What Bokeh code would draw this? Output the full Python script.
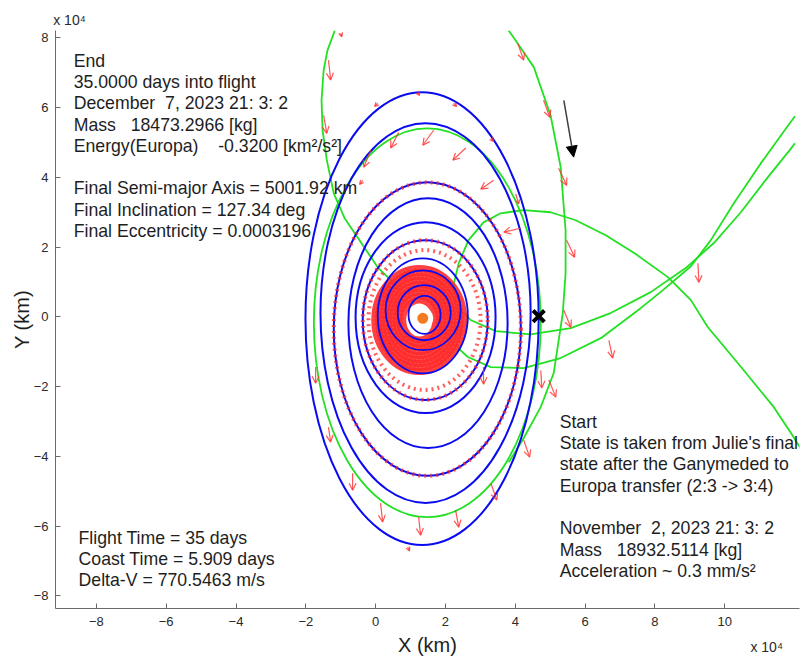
from bokeh.plotting import figure
from bokeh.models import (ColumnDataSource, Range1d, FixedTicker, Arrow,
                          OpenHead, NormalHead, LinearAxis)
from bokeh.embed import file_html
from bokeh.resources import INLINE
from bokeh.core.properties import value

# ---------------------------------------------------------------- data
# all positions in units of 1e4 km, Europa-centred rotating frame
x_ticks = [-8, -6, -4, -2, 0, 2, 4, 6, 8, 10]
y_ticks = [-8, -6, -4, -2, 0, 2, 4, 6, 8]
scale_note = "x 10\u2074"
note_top_x = -8.77       # where the exponent note sits above the plot
note_bottom_x = 11.2     # where the exponent note sits under the x axis

europa_x, europa_y = 1.35, -0.04
start_x, start_y = 4.67, 0.02

# blue: thrust-spiral revolutions (centre, full width, full height)
blue_cx = [1.33, 1.43, 1.48, 1.50, 1.43, 1.42, 1.35, 1.36, 1.39, 1.40]
blue_cy = [-0.05, 0.11, -0.35, -0.18, -0.02, -0.09, 0.03, 0.19, 0.12, 0.06]
blue_w = [6.68, 6.02, 5.36, 4.56, 4.01, 3.58, 2.58, 2.15, 1.52, 0.92]
blue_h = [12.98, 10.89, 8.42, 7.16, 5.47, 4.58, 3.30, 2.29, 1.58, 1.09]

# green: coast orbit around Europa
coast_cx, coast_cy, coast_w, coast_h = 1.48, -0.17, 6.50, 11.15

# green: approach / coast arcs
arc_a_x = [-1.17, -1.38, -1.49, -1.55, -1.52, -1.40, -1.20, -0.89, -0.52, 0.06, 0.72]
arc_a_y = [8.21, 7.64, 7.07, 6.21, 5.35, 4.50, 3.54, 2.83, 2.28, 1.42, 0.77]

arc_b_x = [3.81, 4.07, 4.53, 5.01, 5.30, 5.44, 5.44, 5.36, 5.10, 4.73, 4.21, 3.81]
arc_b_y = [8.21, 7.84, 7.16, 5.78, 4.29, 2.48, 1.25, 0.11, -1.61, -2.58, -3.53, -4.17]

arc_c_x = [12.01, 11.86, 11.23, 10.46, 9.68, 8.88, 7.88, 6.73, 5.59, 4.44, 3.44,
           2.72, 2.29, 2.23, 2.38, 2.66, 3.09, 3.58, 4.24, 5.01, 5.73, 6.59,
           7.45, 8.37, 9.03, 9.51, 10.46, 11.40, 11.89, 12.18]
arc_c_y = [4.98, 4.78, 4.00, 3.00, 2.11, 1.40, 0.71, 0.11, -0.32, -0.50, -0.41,
           -0.09, 0.39, 0.91, 1.54, 2.20, 2.71, 2.97, 3.06, 3.00, 2.77, 2.34,
           1.80, 1.14, 0.48, -0.29, -1.43, -2.58, -3.32, -3.78]

arc_d_x = [12.01, 11.86, 11.03, 10.26, 9.60, 9.03, 8.22, 7.59, 6.45, 5.30, 4.24,
           3.30, 2.64, 2.21, 2.06]
arc_d_y = [5.75, 5.55, 4.40, 3.26, 2.20, 1.45, 0.76, 0.25, -0.61, -1.18, -1.47,
           -1.44, -1.15, -0.75, -0.58]

# red: densely sampled thrust segments (drawn as dashed rings)
ring_cx = [1.48, 1.42, 1.40]
ring_cy = [-0.35, -0.09, -0.09]
ring_w = [5.36, 3.58, 3.21]
ring_h = [8.42, 4.58, 4.01]

# red: tight inner spiral near Europa
blob_cx = 1.25
blob_cy = -0.09
blob_w = [2.55, 2.35, 2.15, 1.95, 1.75, 1.55, 1.35, 1.15, 0.95]
blob_h = [2.95, 2.72, 2.50, 2.28, 2.05, 1.82, 1.60, 1.38, 1.15]

# red: thrust direction vectors (tail -> head)
thr_x0 = [-1.35, -1.49, -1.72, -1.35, -0.66, 0.14, 1.23, 2.29, 3.30, 4.24, 3.09, 4.73,
          4.96, 6.68, 9.23, 5.39, 5.47, 5.24, 4.81, 4.07, 0.66, 1.66, 2.58, 3.38, 4.15, -0.14]
thr_y0 = [7.36, 5.78, -1.44, -3.16, -4.48, -5.34, -5.74, -5.54, -4.77, -3.53, -1.44, -1.53,
          -1.81, -0.67, 1.54, 0.19, 2.20, 4.26, 6.21, 7.84, 5.29, 5.35, 4.84, 3.92, 2.54, 4.78]
thr_x1 = [-1.29, -1.40, -1.72, -1.29, -0.66, 0.20, 1.29, 2.38, 3.47, 4.41, 3.09, 4.76,
          5.16, 6.79, 9.26, 5.59, 5.70, 5.47, 4.99, 4.24, 0.43, 1.35, 2.21, 3.01, 3.67, -0.34]
thr_y1 = [6.79, 5.26, -1.90, -3.59, -4.97, -5.88, -6.26, -6.03, -5.25, -4.02, -1.93, -2.04,
          -2.30, -1.18, 0.99, -0.30, 1.71, 3.77, 5.72, 7.36, 4.84, 4.92, 4.49, 3.66, 2.43, 4.29]

# red: short thrust ticks on the outer revolutions
tick_x0 = [1.20, 0.06, 2.23, 3.30, -0.37, 0.92, -1.00, 4.01]
tick_y0 = [6.44, 6.12, 6.12, 5.12, 3.91, -6.60, 8.13, 3.53]
tick_x1 = [1.26, -0.03, 2.32, 3.38, -0.46, 0.97, -0.97, 4.10]
tick_y1 = [6.35, 6.03, 6.03, 5.03, 3.80, -6.71, 8.03, 3.24]

# direction-of-motion marker
dir_x0, dir_y0, dir_x1, dir_y1 = 5.39, 6.21, 5.67, 4.58

NB = "\u00a0"
end_lines = [
    "End",
    "35.0000 days into flight",
    f"December {NB}7, 2023 21: 3: 2",
    f"Mass {NB}{NB}18473.2966 [kg]",
    f"Energy(Europa) {NB}{NB}{NB}-0.3200 [km\u00b2/s\u00b2]",
    "",
    "Final Semi-major Axis = 5001.92 km",
    "Final Inclination = 127.34 deg",
    "Final Eccentricity = 0.0003196",
]
summary_lines = [
    "Flight Time = 35 days",
    "Coast Time = 5.909 days",
    "Delta-V = 770.5463 m/s",
]
start_lines = [
    "Start",
    "State is taken from Julie's final",
    "state after the Ganymeded to",
    "Europa transfer (2:3 -> 3:4)",
    "",
    f"November {NB}2, 2023 21: 3: 2",
    f"Mass {NB}{NB}18932.5114 [kg]",
    "Acceleration ~ 0.3 mm/s\u00b2",
]

# ---------------------------------------------------------------- styles
FONT = "Liberation Sans"
BLUE = "#0b0bf2"
GREEN = "#22e022"
RED = "#ff2b2b"
ORANGE = "#f47a1f"
INK = "#1e1e1e"
AXIS = "#6a6a6a"

p = figure(width=801, height=659,
           x_range=Range1d(-9.17, 12.14), y_range=Range1d(-8.36, 8.21),
           output_backend="svg", toolbar_location=None,
           min_border_left=55, min_border_right=2,
           min_border_top=30, min_border_bottom=51)
p.grid.visible = False
p.outline_line_color = None
p.background_fill_color = "white"
p.border_fill_color = "white"

p.xaxis.ticker = FixedTicker(ticks=x_ticks)
p.yaxis.ticker = FixedTicker(ticks=y_ticks)
p.yaxis.axis_label = "Y (km)"
for ax in (p.xaxis[0], p.yaxis[0]):
    ax.axis_line_color = AXIS
    ax.major_tick_line_color = AXIS
    ax.major_tick_in = 5
    ax.major_tick_out = 0
    ax.minor_tick_line_color = None
    ax.major_label_text_font = FONT
    ax.major_label_text_font_size = "13px"
    ax.major_label_text_color = "#2a2a2a"
    ax.axis_label_text_font = FONT
    ax.axis_label_text_font_size = "20px"
    ax.axis_label_text_font_style = "normal"
    ax.axis_label_text_color = INK
p.xaxis.major_label_standoff = 8
p.yaxis.major_label_standoff = 7
p.yaxis.axis_label_standoff = -2


def note_axis(tick, standoff, **extra):
    """Bare axis that only carries the exponent note (and optionally a label)."""
    ax = LinearAxis(ticker=FixedTicker(ticks=[tick]),
                    major_label_overrides={tick: scale_note},
                    axis_line_color=None, major_tick_line_color=None,
                    minor_tick_line_color=None, major_tick_in=0, major_tick_out=0,
                    major_label_standoff=standoff,
                    major_label_text_font=FONT, major_label_text_font_size="14px",
                    major_label_text_color="#2a2a2a", **extra)
    return ax


p.add_layout(note_axis(note_top_x, 3), "above")
p.add_layout(note_axis(note_bottom_x, 10, axis_label="X (km)",
                       axis_label_standoff=-24, axis_label_text_font=FONT,
                       axis_label_text_font_size="20px",
                       axis_label_text_font_style="normal",
                       axis_label_text_color=INK), "below")

# ---------------------------------------------------------------- trajectory
for gx, gy in ((arc_a_x, arc_a_y), (arc_b_x, arc_b_y),
               (arc_c_x, arc_c_y), (arc_d_x, arc_d_y)):
    p.line(gx, gy, line_color=GREEN, line_width=1.8, line_join="round")
p.ellipse(x=[coast_cx], y=[coast_cy], width=[coast_w], height=[coast_h],
          fill_color=None, line_color=GREEN, line_width=1.8)

p.ellipse(x=blue_cx[:6], y=blue_cy[:6], width=blue_w[:6], height=blue_h[:6],
          fill_color=None, line_color=BLUE, line_width=2)

p.ellipse(x=ring_cx, y=ring_cy, width=ring_w, height=ring_h,
          fill_color=None, line_color=RED, line_width=4, line_alpha=0.75,
          line_dash="2 4")

# inner spiral: overlapping solid rings read as one dense red region
n = len(blob_w)
p.ellipse(x=[blob_cx] * n, y=[blob_cy] * n, width=blob_w, height=blob_h,
          fill_color=None, line_color=RED, line_width=7, line_alpha=0.9)
p.ellipse(x=[blob_cx] * n, y=[blob_cy] * n, width=blob_w, height=blob_h,
          fill_color=None, line_color="#ff7070", line_width=1, line_alpha=0.7,
          line_dash="1 3")

p.ellipse(x=blue_cx[6:], y=blue_cy[6:], width=blue_w[6:], height=blue_h[6:],
          fill_color=None, line_color=BLUE, line_width=1.8)

thrust = ColumnDataSource(dict(x0=thr_x0, y0=thr_y0, x1=thr_x1, y1=thr_y1))
p.add_layout(Arrow(x_start="x0", y_start="y0", x_end="x1", y_end="y1",
                   source=thrust, line_color=RED, line_width=1.2, line_alpha=0.8,
                   end=OpenHead(size=7, line_color=RED, line_width=1.2,
                                line_alpha=0.8)))
ticks = ColumnDataSource(dict(x0=tick_x0, y0=tick_y0, x1=tick_x1, y1=tick_y1))
p.add_layout(Arrow(x_start="x0", y_start="y0", x_end="x1", y_end="y1",
                   source=ticks, line_color=RED, line_width=1.2, line_alpha=0.8,
                   end=OpenHead(size=4, line_color=RED, line_width=1.2,
                                line_alpha=0.8)))

# Europa
p.scatter([europa_x], [europa_y], size=21, marker="circle",
          fill_color="white", line_color=None)
p.scatter([europa_x], [europa_y], size=11, marker="circle",
          fill_color=ORANGE, line_color=None)

# start state
p.scatter([start_x], [start_y], marker="x", size=16, line_width=4,
          line_color="black")

p.add_layout(Arrow(x_start=dir_x0, y_start=dir_y0, x_end=dir_x1, y_end=dir_y1,
                   line_color="#404040", line_width=1.5,
                   end=NormalHead(size=11, fill_color="black", line_color="black")))

# ---------------------------------------------------------------- notes
def text_block(lines, x0, y0, step):
    xs, ys, ts = [], [], []
    for i, t in enumerate(lines):
        if t:
            xs.append(x0)
            ys.append(y0 - i * step)
            ts.append(t)
    p.text(x=xs, y=ys, text=ts, text_font=value(FONT),
           text_font_size="17.7px", text_color=INK,
           text_baseline="alphabetic", text_align="left")

text_block(end_lines, -8.65, 7.34, 0.609)
text_block(summary_lines, -8.51, -6.33, 0.602)
text_block(start_lines, 5.27, -3.01, 0.610)

open("out.html", "w").write(file_html(p, INLINE))
